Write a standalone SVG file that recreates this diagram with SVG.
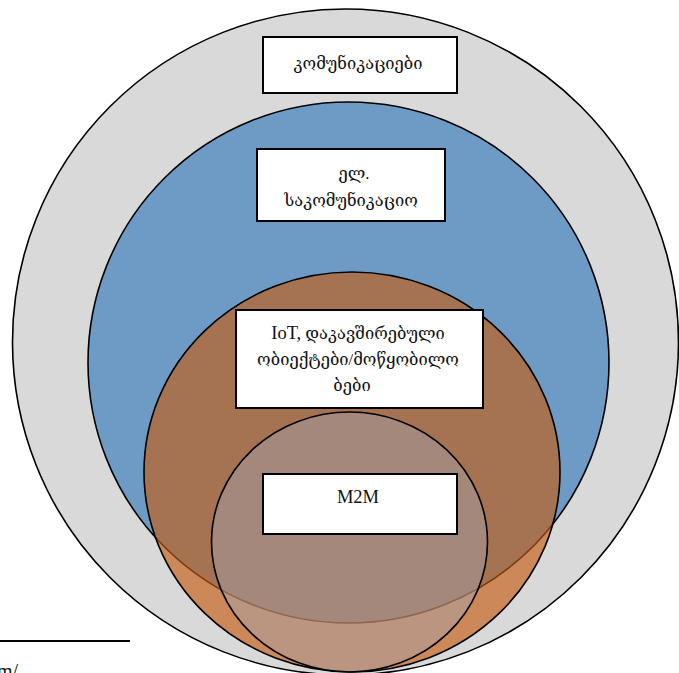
<svg xmlns="http://www.w3.org/2000/svg" width="679" height="673" viewBox="0 0 679 673">
<style>
.ring{stroke:#000;stroke-width:1.6}
.box{fill:#fff;stroke:#000;stroke-width:2}
.lbl{font-family:"Liberation Serif","DejaVu Serif",serif;font-size:16.5px;fill:#111;text-anchor:middle}
.lat{font-size:18.5px}
</style>
<rect width="679" height="673" fill="#fff"/>
<g id="communications">
<circle class="ring" cx="345.5" cy="342" r="333" fill="#D9D9D9"/>
<rect class="box" x="263" y="37" width="194" height="56"/>
<text class="lbl" x="358" y="69">კომუნიკაციები</text>
</g>
<g id="e-communications">
<circle class="ring" cx="348.5" cy="362.5" r="260.5" fill="#6E9BC5"/>
<rect class="box" x="257" y="149" width="188" height="72"/>
<text class="lbl" x="354" y="179">ელ.</text>
<text class="lbl" x="351" y="206">საკომუნიკაციო</text>
</g>
<g id="iot">
<ellipse class="ring" cx="352" cy="472" rx="208" ry="200" fill="#C55A11" fill-opacity="0.64"/>
<rect class="box" x="236" y="310" width="247" height="98"/>
<text class="lbl" x="358" y="339"><tspan class="lat">IoT,</tspan> დაკავშირებული</text>
<text class="lbl" x="358" y="365">ობიექტები/მოწყობილო</text>
<text class="lbl" x="352" y="391">ბები</text>
</g>
<g id="m2m">
<ellipse class="ring" cx="349.5" cy="542" rx="138" ry="130" fill="#A3AAB9" fill-opacity="0.4"/>
<rect class="box" x="263" y="474" width="194" height="60"/>
<text class="lbl lat" x="358" y="503">M2M</text>
</g>
<g id="footnote">
<line x1="0" y1="641" x2="130" y2="641" stroke="#000" stroke-width="2"/>
<text x="-3" y="678" style="font-family:'Liberation Serif',serif;font-size:20px;fill:#111">m/</text>
</g>
</svg>
